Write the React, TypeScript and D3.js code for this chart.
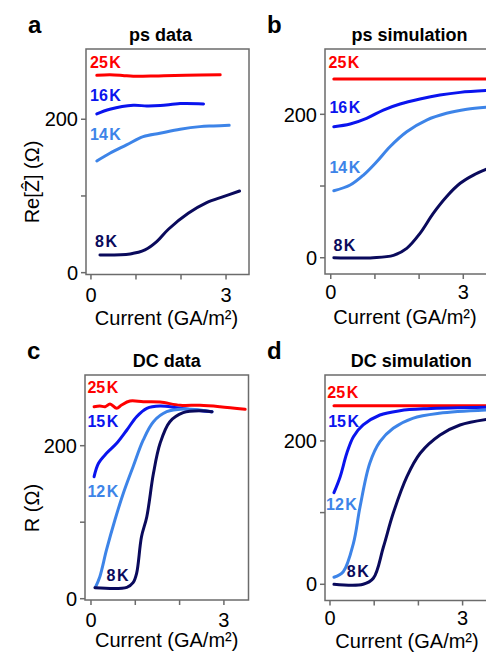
import React from "react";
import * as d3 from "d3";

const RED = "#fe0000";
const BLUE = "#0a14ee";
const LIGHT = "#3d84e8";
const NAVY = "#0a0a5c";
const FONT = "'Liberation Sans', Arial, sans-serif";

// ---- panel a : ps data (current GA/m2, Re[Z] ohm)
const psData25K = [[0.13, 257.3], [0.42, 258.1], [0.7, 257.2], [0.94, 256], [1.5, 256.5], [2.1, 257.3], [2.87, 258.1]];
const psData16K = [[0.13, 206.9], [0.42, 213], [0.94, 218.2], [1.24, 217.3], [1.54, 217.8], [1.98, 220.4], [2.5, 220]];
const psData14K = [[0.13, 145.6], [0.42, 155.7], [0.79, 166.5], [1.16, 177.3], [1.53, 181.7], [1.98, 187], [2.42, 190.4], [2.72, 191.3], [3.07, 192.2]];
const psData8K = [[0.2, 23.1], [0.87, 24.4], [1.2, 29.6], [1.46, 40.4], [1.72, 56.6], [2.16, 77.4], [2.57, 91.3], [2.94, 99.1], [3.3, 106.5]];

// ---- panel b : ps simulation
const psSim25K = [[0.07, 249.2], [1, 249.2], [2, 249.2], [3, 249.2], [3.6, 249.2]];
const psSim16K = [[0.07, 182.7], [0.44, 186.5], [0.81, 194.4], [1.19, 206], [1.57, 214.4], [2.02, 221.3], [2.47, 226.8], [2.93, 230.6], [3.55, 233.2]];
const psSim14K = [[0.07, 93.4], [0.44, 101.4], [0.74, 115.3], [1.04, 133.9], [1.34, 154.8], [1.72, 175.7], [2.17, 192], [2.62, 201.4], [3.08, 207], [3.55, 210]];
const psSim8K = [[0.07, 0], [0.96, 0], [1.42, 3.3], [1.72, 13.1], [2.02, 34], [2.32, 61.9], [2.62, 85.1], [2.93, 103.8], [3.23, 115.3], [3.55, 124]];

// ---- panel c : DC data (R ohm)
const dcData25K = [[0.07, 251], [0.2, 251.9], [0.32, 251], [0.43, 254.5], [0.58, 248.9], [0.69, 253.2], [0.88, 258.4], [1.18, 257.5], [1.56, 257.1], [2.01, 252.8], [2.46, 252.8], [2.91, 251], [3.48, 247.6]];
const dcData15K = [[0.07, 159.5], [0.17, 177], [0.35, 190], [0.58, 203.1], [0.81, 220.5], [1.03, 237.9], [1.26, 248.9], [1.56, 251.9], [1.93, 249.7], [2.31, 246.7], [2.73, 244.4]];
const dcData12K = [[0.1, 14.9], [0.2, 28.8], [0.35, 63.7], [0.54, 102.9], [0.73, 137.8], [0.95, 172.5], [1.18, 207.5], [1.41, 231.4], [1.71, 244.4], [2.08, 248], [2.46, 246.7], [2.73, 244.4]];
const dcData8K = [[0.09, 14.4], [0.81, 14.9], [0.95, 20.9], [1.03, 33.2], [1.14, 81], [1.26, 107.2], [1.41, 163.9], [1.56, 203.1], [1.78, 231.4], [2.08, 243.2], [2.46, 245.8], [2.73, 244.4]];

// ---- panel d : DC simulation
const dcSim25K = [[0.09, 249], [1, 249], [2, 249], [3, 249], [3.6, 249]];
const dcSim15K = [[0.09, 127.8], [0.23, 150.1], [0.38, 182.7], [0.53, 205.9], [0.75, 222.2], [1.13, 236.1], [1.58, 242.1], [2.19, 244.9], [3.55, 246.9]];
const dcSim12K = [[0.09, 9.8], [0.3, 17.6], [0.53, 57.2], [0.68, 108.2], [0.9, 168.8], [1.13, 198.9], [1.43, 217.6], [1.87, 231.5], [2.47, 238.5], [3.55, 243.1]];
const dcSim8K = [[0.09, 0], [0.75, 0], [0.98, 8.4], [1.21, 52.4], [1.43, 99], [1.74, 150.1], [2.04, 182.7], [2.49, 208.2], [2.94, 222.2], [3.55, 230.1]];

const xTicks = [0, 1, 2, 3];
const xTickLabels = ["0", "", "", "3"];
const yTicks = [0, 100, 200];
const yTickLabels = ["0", "", "200"];

const panels = [
  {
    letter: "a", title: "ps data", titleX: 160.5, ylabel: "Re[Ẑ] (Ω)", ylabelY: 182,
    box: [86, 49, 249, 274.5], xDomain: [-0.11, 3.51], yDomain: [-2.4, 291.6], tickDy: 27, xlabelX: 166.5, xlabelY: 325,
    series: [
      { name: "25", data: psData25K, color: RED, lx: -0.02, ly: 266.9 },
      { name: "16", data: psData16K, color: BLUE, lx: -0.02, ly: 223.9 },
      { name: "14", data: psData14K, color: LIGHT, lx: -0.02, ly: 173 },
      { name: "8", data: psData8K, color: NAVY, lx: 0.09, ly: 33.5 },
    ],
  },
  {
    letter: "b", title: "ps simulation", titleX: 409.5, ylabel: "", ylabelY: 0,
    box: [325, 49, 492, 274], xDomain: [-0.13, 3.65], yDomain: [-22.7, 291.1], tickDy: 25, xlabelX: 405, xlabelY: 324,
    series: [
      { name: "25", data: psSim25K, color: RED, lx: -0.05, ly: 264.2 },
      { name: "16", data: psSim16K, color: BLUE, lx: -0.03, ly: 201.4 },
      { name: "14", data: psSim14K, color: LIGHT, lx: -0.03, ly: 118.5 },
      { name: "8", data: psSim8K, color: NAVY, lx: 0.06, ly: 9.3 },
    ],
  },
  {
    letter: "c", title: "DC data", titleX: 166.7, ylabel: "R (Ω)", ylabelY: 508,
    box: [85, 375, 248.5, 600], xDomain: [-0.135, 3.555], yDomain: [-1.7, 292.4], tickDy: 27, xlabelX: 166.7, xlabelY: 647,
    series: [
      { name: "25", data: dcData25K, color: RED, lx: -0.08, ly: 268.5 },
      { name: "15", data: dcData15K, color: BLUE, lx: -0.08, ly: 224.8 },
      { name: "12", data: dcData12K, color: LIGHT, lx: -0.08, ly: 133.3 },
      { name: "8", data: dcData8K, color: NAVY, lx: 0.35, ly: 23.5 },
    ],
  },
  {
    letter: "d", title: "DC simulation", titleX: 411.3, ylabel: "", ylabelY: 0,
    box: [325, 375, 492, 600.5], xDomain: [-0.113, 3.665], yDomain: [-22.6, 291.9], tickDy: 24, xlabelX: 407, xlabelY: 648,
    series: [
      { name: "25", data: dcSim25K, color: RED, lx: -0.06, ly: 259.4 },
      { name: "15", data: dcSim15K, color: BLUE, lx: -0.04, ly: 219 },
      { name: "12", data: dcSim12K, color: LIGHT, lx: -0.09, ly: 103.6 },
      { name: "8", data: dcSim8K, color: NAVY, lx: 0.38, ly: 10.6 },
    ],
  },
];

function Panel({ p }: { p: any }) {
  const [left, top, right, bottom] = p.box;
  const x = d3.scaleLinear().domain(p.xDomain).range([left, right]);
  const y = d3.scaleLinear().domain(p.yDomain).range([bottom, top]);
  const line = d3.line<number[]>()
    .curve(d3.curveCatmullRom.alpha(0.5))
    .x(d => x(d[0]))
    .y(d => y(d[1]));
  const frame = "#6b6b6b";

  return (
    <g>
      <text x={left - 58} y={top - 16} fontSize={24} fontWeight="bold">{p.letter}</text>
      <text x={p.titleX} y={top - 8} fontSize={18} fontWeight="bold" textAnchor="middle">{p.title}</text>
      <rect x={left} y={top} width={right - left} height={bottom - top} fill="none" stroke={frame} strokeWidth={1.5} />
      {yTicks.map((t, i) => (
        <g key={"y" + t}>
          <line x1={left - 5} x2={left} y1={y(t)} y2={y(t)} stroke={frame} strokeWidth={1.5} />
          <text x={left - 8} y={y(t)} dy="0.36em" textAnchor="end" fontSize={20}>{yTickLabels[i]}</text>
        </g>
      ))}
      {xTicks.map((t, i) => (
        <g key={"x" + t}>
          <line x1={x(t)} x2={x(t)} y1={bottom} y2={bottom + 5} stroke={frame} strokeWidth={1.5} />
          <text x={x(t)} y={bottom + p.tickDy} textAnchor="middle" fontSize={20}>{xTickLabels[i]}</text>
        </g>
      ))}
      <text x={p.xlabelX} y={p.xlabelY} textAnchor="middle" fontSize={20}>Current (GA/m²)</text>
      {p.ylabel && (
        <text transform={`translate(39,${p.ylabelY}) rotate(-90)`} textAnchor="middle" fontSize={20}>{p.ylabel}</text>
      )}
      {p.series.map((s: any) => (
        <g key={s.name}>
          <path d={line(s.data) || ""} fill="none" stroke={s.color} strokeWidth={3} strokeLinecap="round" strokeLinejoin="round" />
          <text x={x(s.lx)} y={y(s.ly)} fill={s.color} fontSize={16} fontWeight="bold">
            {s.name}<tspan dx={1.5}>K</tspan>
          </text>
        </g>
      ))}
    </g>
  );
}

export default function App() {
  return (
    <svg width={486} height={653} style={{ position: "absolute", left: 0, top: 0, background: "#fff" }} fontFamily={FONT}>
      <rect width={486} height={653} fill="#fff" />
      {panels.map(p => <Panel key={p.letter} p={p} />)}
    </svg>
  );
}
